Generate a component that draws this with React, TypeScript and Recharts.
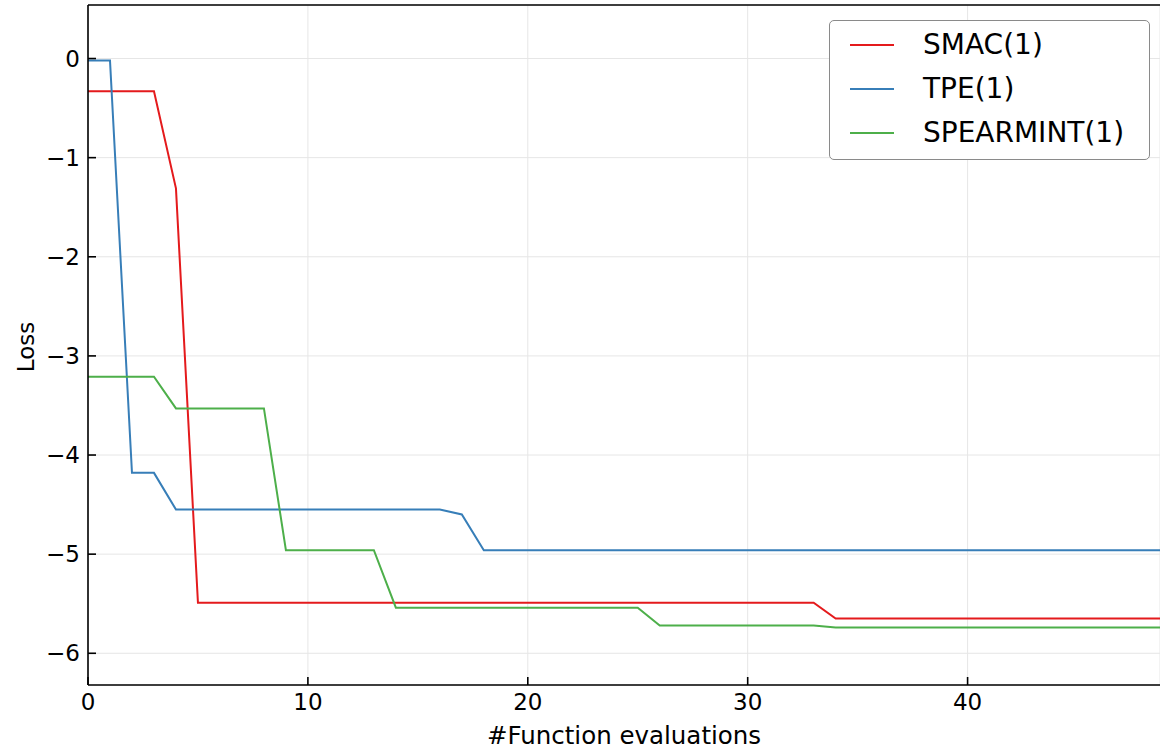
import { LineChart, Line, XAxis, YAxis, CartesianGrid } from 'recharts'

// #Function evaluations 0..49
const evals = [
  0, 1, 2, 3, 4, 5, 6, 7, 8, 9,
  10, 11, 12, 13, 14, 15, 16, 17, 18, 19,
  20, 21, 22, 23, 24, 25, 26, 27, 28, 29,
  30, 31, 32, 33, 34, 35, 36, 37, 38, 39,
  40, 41, 42, 43, 44, 45, 46, 47, 48, 49,
]

const smac = [
  -0.33, -0.33, -0.33, -0.33, -1.31, -5.49, -5.49, -5.49, -5.49, -5.49,
  -5.49, -5.49, -5.49, -5.49, -5.49, -5.49, -5.49, -5.49, -5.49, -5.49,
  -5.49, -5.49, -5.49, -5.49, -5.49, -5.49, -5.49, -5.49, -5.49, -5.49,
  -5.49, -5.49, -5.49, -5.49, -5.65, -5.65, -5.65, -5.65, -5.65, -5.65,
  -5.65, -5.65, -5.65, -5.65, -5.65, -5.65, -5.65, -5.65, -5.65, -5.65,
]

const tpe = [
  -0.02, -0.02, -4.18, -4.18, -4.55, -4.55, -4.55, -4.55, -4.55, -4.55,
  -4.55, -4.55, -4.55, -4.55, -4.55, -4.55, -4.55, -4.60, -4.96, -4.96,
  -4.96, -4.96, -4.96, -4.96, -4.96, -4.96, -4.96, -4.96, -4.96, -4.96,
  -4.96, -4.96, -4.96, -4.96, -4.96, -4.96, -4.96, -4.96, -4.96, -4.96,
  -4.96, -4.96, -4.96, -4.96, -4.96, -4.96, -4.96, -4.96, -4.96, -4.96,
]

const spearmint = [
  -3.21, -3.21, -3.21, -3.21, -3.53, -3.53, -3.53, -3.53, -3.53, -4.96,
  -4.96, -4.96, -4.96, -4.96, -5.54, -5.54, -5.54, -5.54, -5.54, -5.54,
  -5.54, -5.54, -5.54, -5.54, -5.54, -5.54, -5.72, -5.72, -5.72, -5.72,
  -5.72, -5.72, -5.72, -5.72, -5.74, -5.74, -5.74, -5.74, -5.74, -5.74,
  -5.74, -5.74, -5.74, -5.74, -5.74, -5.74, -5.74, -5.74, -5.74, -5.74,
]

const xTicks = [0, 10, 20, 30, 40]
const yTicks = [-6, -5, -4, -3, -2, -1, 0]

const SERIES = [
  { key: 'smac', name: 'SMAC(1)', color: '#e41a1c' },
  { key: 'tpe', name: 'TPE(1)', color: '#377eb8' },
  { key: 'spearmint', name: 'SPEARMINT(1)', color: '#4daf4a' },
]

const data = evals.map((e, i) => ({ e, smac: smac[i], tpe: tpe[i], spearmint: spearmint[i] }))

const X_DOMAIN: [number, number] = [0, 48.75]
const Y_DOMAIN: [number, number] = [-6.32, 0.54]
const FONT = '"DejaVu Sans", sans-serif'
const tickStyle = { fontSize: 23, fill: '#000', fontFamily: FONT }
const axisStroke = { stroke: '#000', strokeWidth: 1.6 }

const fmt = (v: number) => (v < 0 ? '\u2212' + Math.abs(v) : String(v))

export default function App() {
  return (
    <div style={{ position: 'absolute', left: 0, top: 0, width: 1160, height: 753, overflow: 'hidden', background: '#fff', fontFamily: FONT }}>
      <LineChart width={1161} height={753} data={data} margin={{ top: 0, right: 0, left: 0, bottom: 0 }}>
        <CartesianGrid stroke="#e6e6e6" strokeWidth={1} />
        <XAxis
          dataKey="e" type="number" domain={X_DOMAIN} allowDataOverflow ticks={xTicks}
          height={68} tickSize={-8} tickMargin={17} tick={tickStyle}
          axisLine={axisStroke} tickLine={axisStroke}
          label={{ value: '#Function evaluations', position: 'insideBottom', offset: 9, fontSize: 24.5, fill: '#000', fontFamily: FONT }}
        />
        <XAxis
          xAxisId="t" orientation="top" dataKey="e" type="number" domain={X_DOMAIN} allowDataOverflow ticks={xTicks}
          height={5} tickSize={-8} tick={false} axisLine={axisStroke} tickLine={axisStroke}
        />
        <YAxis
          type="number" domain={Y_DOMAIN} allowDataOverflow ticks={yTicks} tickFormatter={fmt}
          width={88} tickSize={-8} tickMargin={16} tick={tickStyle}
          axisLine={axisStroke} tickLine={axisStroke}
          label={{
            content: () => (
              <text x={34} y={347} transform="rotate(-90, 34, 347)" textAnchor="middle" fontSize={23} fill="#000" fontFamily={FONT}>
                Loss
              </text>
            ),
          }}
        />
        <YAxis
          yAxisId="r" orientation="right" type="number" domain={Y_DOMAIN} allowDataOverflow ticks={yTicks}
          width={1} tickSize={-8} tick={false} axisLine={false} tickLine={axisStroke}
        />
        {SERIES.map((s) => (
          <Line
            key={s.key} dataKey={s.key} name={s.name} type="linear"
            stroke={s.color} strokeWidth={2} dot={false} activeDot={false}
            isAnimationActive={false}
          />
        ))}
      </LineChart>

      {/* legend box, upper right */}
      <div
        style={{
          position: 'absolute', left: 829, top: 20, width: 319, height: 138,
          border: '1.5px solid #8a8a8a', borderRadius: 5, background: '#fff',
        }}
      >
        {SERIES.map((s, i) => (
          <div key={s.key} style={{ position: 'absolute', left: 0, top: 2 + i * 44, height: 44, width: '100%' }}>
            <span style={{ position: 'absolute', left: 20, top: 21, width: 44, height: 2, background: s.color }} />
            <span style={{ position: 'absolute', left: 93, top: 0, lineHeight: '44px', fontSize: 28, color: '#000', whiteSpace: 'nowrap' }}>
              {s.name}
            </span>
          </div>
        ))}
      </div>
    </div>
  )
}
